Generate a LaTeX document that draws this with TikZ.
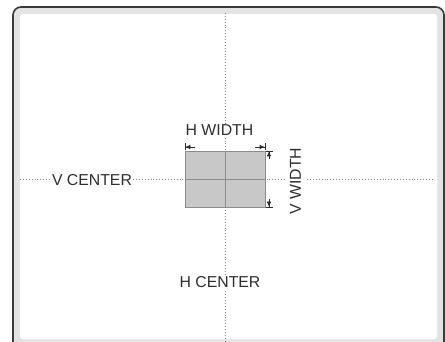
\documentclass[tikz,border=0pt]{standalone}
\usepackage{fontspec}
\setmainfont{Liberation Sans}
\usepackage{xcolor}
\usetikzlibrary{arrows.meta, positioning}
\definecolor{framedark}{HTML}{3A3A3A}
\definecolor{frameband}{HTML}{E4E4E4}
\definecolor{guidegray}{HTML}{808080}
\definecolor{winfill}{HTML}{C8C8C8}
\definecolor{wingray}{HTML}{8C8C8C}
\definecolor{textgray}{HTML}{2E2E2E}
\def\lbl{\fontsize{15.8}{18}\selectfont}

\begin{document}
\begin{tikzpicture}[x=1pt, y=-1pt,
    guide/.style={guidegray, line width=0.9pt, dash pattern=on 0.9pt off 2pt},
    window/.style={draw=wingray, fill=winfill, line width=0.6pt, inner sep=0pt},
    cross/.style={wingray, line width=0.6pt},
    dim/.style={textgray, line width=0.6pt, -{Latex[length=5pt, width=4.5pt] Bar[width=7pt]}},
    label/.style={text=textgray, font=\lbl, fill=white, inner sep=1pt}]
  \useasboundingbox (0,0) rectangle (445,342);
  \draw[framedark, line width=1.6pt, fill=frameband, rounded corners=8pt] (13,7) rectangle (444,350);
  \fill[white, rounded corners=3pt] (20,14) rectangle (437,339);
  \coordinate (top) at (225,13);
  \coordinate (bottom) at (225,341);
  \coordinate (left) at (20,179);
  \coordinate (right) at (434,179);
  \draw[guide] (top) -- (bottom);
  \draw[guide] (left) -- (right);
  \node[window, minimum width=80pt, minimum height=56pt] (win) at (225,179) {};
  \draw[cross] (win.north) -- (win.south);
  \draw[cross] (win.west) -- (win.east);
  \coordinate (hwl) at (195,147);
  \coordinate (hwr) at (255,147);
  \coordinate (vwt) at (269,159);
  \coordinate (vwb) at (269,199);
  \draw[dim] (hwl) -- (win.north west |- hwl);
  \draw[dim] (hwr) -- (win.north east |- hwr);
  \draw[dim] (vwt) -- (vwt |- win.north);
  \draw[dim] (vwb) -- (vwb |- win.south);
  \node[label] (vc) at (92,180) {V CENTER};
  \node[label] (hw) at (219.5,130) {H WIDTH};
  \node[label] (hc) at (220,282.5) {H CENTER};
  \node[label, rotate=90, inner sep=5pt] (vw) at (295.5,181) {V WIDTH};
\end{tikzpicture}
\end{document}
